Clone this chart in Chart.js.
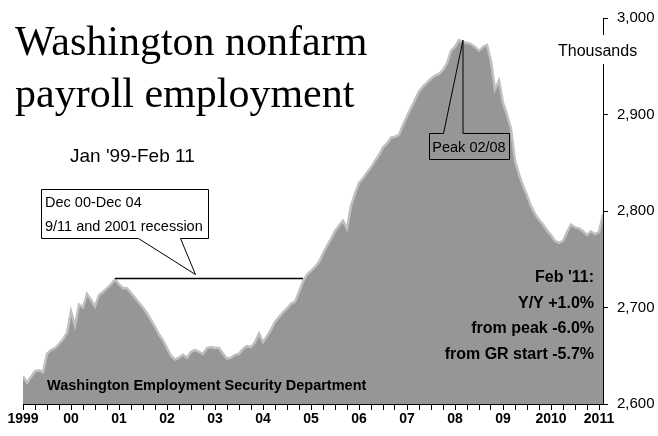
<!DOCTYPE html>
<html>
<head>
<meta charset="utf-8">
<title>Washington nonfarm payroll employment</title>
<script src="https://cdn.jsdelivr.net/npm/chart.js@4.4.1/dist/chart.umd.min.js"></script>
<style>
  html, body { margin: 0; padding: 0; background: #fff; }
  #wrap { position: relative; width: 658px; height: 436px; }
</style>
</head>
<body>
<div id="wrap"><canvas id="payrollChart"></canvas></div>
<script>
// Monthly nonfarm payroll, thousands, Jan 1999 .. Feb 2011
const payroll = [
  2629, 2622, 2628, 2634, 2635, 2633, 2652, 2656, 2658, 2662, 2667, 2674, // 1999
  2696, 2681, 2703, 2700, 2714, 2708, 2701, 2713, 2716, 2720, 2724, 2729, // 2000
  2724, 2720, 2720, 2715, 2710, 2705, 2700, 2694, 2687, 2680, 2672, 2666, // 2001
  2658, 2650, 2646, 2648, 2651, 2648, 2654, 2656, 2654, 2652, 2658, 2659, // 2002
  2658, 2658, 2652, 2647, 2648, 2651, 2652, 2657, 2660, 2659, 2664, 2673, // 2003
  2664, 2670, 2677, 2685, 2690, 2695, 2699, 2704, 2706, 2716, 2727, 2734, // 2004
  2738, 2742, 2747, 2756, 2764, 2771, 2779, 2785, 2790, 2782, 2805, 2818, // 2005
  2829, 2834, 2840, 2845, 2852, 2858, 2866, 2870, 2876, 2877, 2879, 2889, // 2006
  2898, 2907, 2915, 2924, 2929, 2933, 2937, 2940, 2942, 2946, 2953, 2966, // 2007
  2970, 2977, 2975, 2974, 2973, 2970, 2966, 2970, 2972, 2955, 2926, 2935, // 2008
  2912, 2900, 2885, 2852, 2838, 2826, 2816, 2805, 2797, 2791, 2786, 2780, // 2009
  2775, 2769, 2767, 2769, 2778, 2786, 2783, 2782, 2779, 2775, 2779, 2776, // 2010
  2778, 2797                                                              // 2011
];

const yearLabels = ["1999", "00", "01", "02", "03", "04", "05", "06", "07", "08", "09", "2010", "2011"];

const summaryLines = ["Feb '11:", "Y/Y +1.0%", "from peak -6.0%", "from GR start -5.7%"];
const recessionNote = ["Dec 00-Dec 04", "9/11 and 2001 recession"];
const recessionSpan = [23, 70]; // month index, Dec 00 .. Dec 04
const recessionLevel = 2730;
const peakIndex = 109; // Feb 2008

document.addEventListener("DOMContentLoaded", () => {
  const ctx = document.getElementById("payrollChart").getContext("2d");
  const sans = "'Liberation Sans', Arial, sans-serif";
  const serif = "'Liberation Serif', 'Times New Roman', serif";

  // titles, callouts and the Feb '11 summary
  const annotations = {
    id: "annotations",
    afterDraw(chart) {
      const c = chart.ctx;
      const xs = chart.scales.x;
      const ys = chart.scales.y;
      c.save();
      c.fillStyle = "#000";
      c.strokeStyle = "#000";
      c.lineWidth = 1;
      c.textBaseline = "alphabetic";

      c.font = "42px " + serif;
      c.textAlign = "left";
      c.fillText("Washington nonfarm", 15, 55);
      c.fillText("payroll employment", 15, 107);

      c.font = "19px " + sans;
      c.fillText("Jan '99-Feb 11", 70, 162);

      // units label sits on top of the axis line
      c.fillStyle = "#fff";
      c.fillRect(556, 35, 84, 29);
      c.fillStyle = "#000";
      c.font = "16px " + sans;
      c.fillText("Thousands", 558, 56);

      // 2001 recession span
      const y0 = ys.getPixelForValue(recessionLevel);
      c.lineWidth = 1.5;
      c.beginPath();
      c.moveTo(xs.getPixelForValue(recessionSpan[0]), y0);
      c.lineTo(xs.getPixelForValue(recessionSpan[1]), y0);
      c.stroke();
      c.lineWidth = 1;

      const tipX = 195.5, tipY = y0 - 4;
      c.beginPath();
      c.moveTo(41.5, 189.5);
      c.lineTo(208.5, 189.5);
      c.lineTo(208.5, 238.5);
      c.lineTo(180.5, 238.5);
      c.lineTo(tipX, tipY);
      c.lineTo(138.5, 238.5);
      c.lineTo(41.5, 238.5);
      c.closePath();
      c.fillStyle = "#fff";
      c.fill();
      c.stroke();
      c.fillStyle = "#000";
      c.font = "14.5px " + sans;
      c.fillText(recessionNote[0], 45, 207);
      c.fillText(recessionNote[1], 45, 231);

      // peak callout
      const px = xs.getPixelForValue(peakIndex + 1);
      const py = ys.getPixelForValue(payroll[peakIndex]);
      c.beginPath();
      c.moveTo(429.5, 133.5);
      c.lineTo(443.5, 133.5);
      c.lineTo(px, py);
      c.lineTo(px, 133.5);
      c.lineTo(509.5, 133.5);
      c.lineTo(509.5, 159.5);
      c.lineTo(429.5, 159.5);
      c.closePath();
      c.stroke();
      c.font = "14.5px " + sans;
      c.textAlign = "center";
      c.fillText("Peak 02/08", 469, 152);

      c.font = "bold 14.5px " + sans;
      c.textAlign = "left";
      c.fillText("Washington Employment Security Department", 47, 390);

      c.font = "bold 16px " + sans;
      c.textAlign = "right";
      summaryLines.forEach((line, i) => {
        c.fillText(line, 594, 282 + i * 25.5);
      });
      c.restore();
    },
  };

  new Chart(ctx, {
    type: "line",
    data: {
      datasets: [
        {
          data: payroll.map((v, i) => ({ x: i, y: v })),
          fill: "start",
          backgroundColor: "#969696",
          borderColor: "#c0c0c0",
          borderWidth: 2.5,
          pointRadius: 0,
          tension: 0,
        },
      ],
    },
    options: {
      responsive: true,
      maintainAspectRatio: false,
      animation: false,
      layout: { padding: { left: 23, top: 15, right: 0, bottom: 0 } },
      plugins: {
        legend: { display: false },
        tooltip: { enabled: false },
      },
      scales: {
        x: {
          type: "linear",
          min: 0,
          max: payroll.length - 1,
          afterBuildTicks: (scale) => {
            const ticks = [];
            for (let i = 0; i < payroll.length; i += 3) ticks.push({ value: i });
            scale.ticks = ticks;
          },
          afterFit: (scale) => {
            scale.height = 32;
          },
          ticks: {
            autoSkip: false,
            maxRotation: 0,
            padding: 1,
            color: "#000",
            font: { family: sans, size: 14, weight: "bold" },
            callback: (value) => (value % 12 === 0 ? yearLabels[value / 12] : ""),
          },
          grid: {
            drawOnChartArea: false,
            tickLength: 6,
            color: "#000",
          },
          border: { display: true, color: "#000", width: 1 },
        },
        y: {
          position: "right",
          min: 2600,
          max: 3000,
          afterFit: (scale) => {
            scale.width = 55;
          },
          ticks: {
            stepSize: 100,
            padding: 9,
            color: "#000",
            font: { family: sans, size: 15 },
            callback: (value) => value.toLocaleString("en-US"),
          },
          grid: {
            drawOnChartArea: false,
            tickLength: 5,
            color: "#000",
          },
          border: { display: true, color: "#000", width: 1 },
        },
      },
    },
    plugins: [annotations],
  });
});
</script>
</body>
</html>
